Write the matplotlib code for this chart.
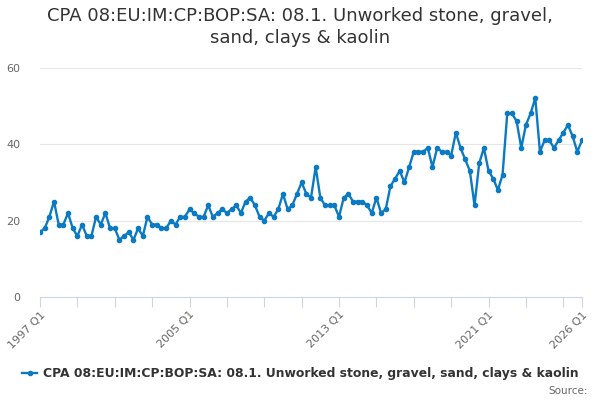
import numpy as np
import matplotlib.pyplot as plt

# Quarterly values, 1997 Q1 - 2026 Q1
values = [17, 18, 21, 25, 19, 19, 22, 18, 16, 19, 16, 16, 21, 19, 22, 18,
          18, 15, 16, 17, 15, 18, 16, 21, 19, 19, 18, 18, 20, 19, 21, 21,
          23, 22, 21, 21, 24, 21, 22, 23, 22, 23, 24, 22, 25, 26, 24, 21,
          20, 22, 21, 23, 27, 23, 24, 27, 30, 27, 26, 34, 26, 24, 24, 24,
          21, 26, 27, 25, 25, 25, 24, 22, 26, 22, 23, 29, 31, 33, 30, 34,
          38, 38, 38, 39, 34, 39, 38, 38, 37, 43, 39, 36, 33, 24, 35, 39,
          33, 31, 28, 32, 48, 48, 46, 39, 45, 48, 52, 38, 41, 41, 39, 41,
          43, 45, 42, 38, 41]
tick_labels = ['1997 Q1', '2005 Q1', '2013 Q1', '2021 Q1', '2026 Q1']
tick_pos = [0, 32, 64, 96, 116]
series_name = 'CPA 08:EU:IM:CP:BOP:SA: 08.1. Unworked stone, gravel, sand, clays & kaolin'
title = 'CPA 08:EU:IM:CP:BOP:SA: 08.1. Unworked stone, gravel,\nsand, clays & kaolin'

x = np.arange(len(values))
W, H = 600, 400
fig = plt.figure(figsize=(6, 4), dpi=100)
ax = fig.add_axes([40 / W, (H - 297.3) / H, 542 / W, 229.8 / H])

ax.plot(x, values, color='#0b7ac2', lw=1.7, marker='o', ms=3, zorder=3)
ax.set_xlim(0, 116)
ax.set_ylim(0, 60)
ax.set_yticks([0, 20, 40, 60])
for v in [20, 40, 60]:
    ax.axhline(v, color='#e6e6e6', lw=0.8, zorder=1)

for s in ['top', 'right', 'left']:
    ax.spines[s].set_visible(False)
ax.spines['bottom'].set_color('#ccd6eb')
ax.spines['bottom'].set_linewidth(0.8)

ax.set_xticks(list(range(0, 117, 8)) + [116])
ax.set_xticklabels([''] * len(ax.get_xticks()))
ax.tick_params(axis='x', length=7, width=0.8, color='#ccd6eb')
ax.tick_params(axis='y', length=0, pad=14, labelsize=8, labelcolor='#666666')
for p, lab in zip(tick_pos, tick_labels):
    ax.text(p, -3.2, lab, rotation=45, ha='right', va='top', fontsize=8,
            color='#666666', rotation_mode='anchor')

fig.text(0.5, 1 - 27 / H, title, ha='center', va='center', fontsize=13,
         color='#333333', linespacing=1.25)

# legend
ly = 1 - 373 / H
fig.add_artist(plt.Line2D([22 / W, 29.5 / W, 37 / W], [ly, ly, ly],
                          color='#0b7ac2', lw=1.7, marker='o', ms=3,
                          markevery=[1], transform=fig.transFigure))
fig.text(43 / W, ly, series_name, ha='left', va='center', fontsize=8.9,
         fontweight='bold', color='#333333')
fig.text(588 / W, 1 - 391 / H, 'Source:', ha='right', va='center',
         fontsize=7.5, color='#666666')

fig.savefig('out.png', dpi=100)
